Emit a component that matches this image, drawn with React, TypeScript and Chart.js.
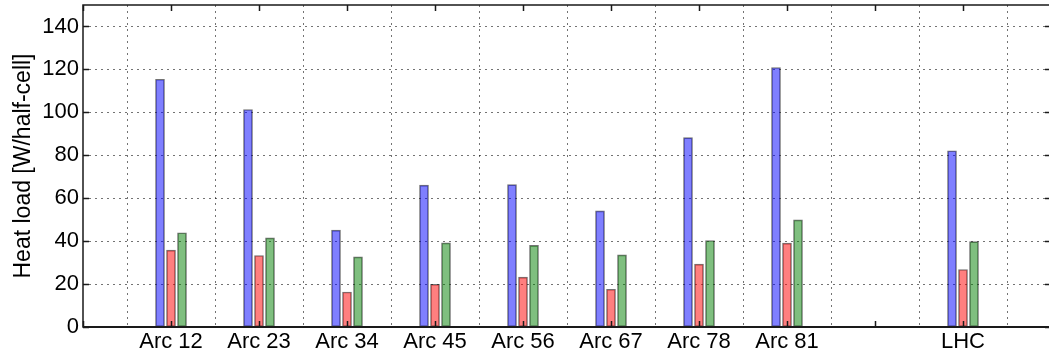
import React, { useEffect, useRef } from "react";
import { Chart, registerables } from "chart.js";

Chart.register(...registerables);

// Sector names and their positions on the x axis (gap before the LHC total)
const categories = ["Arc 12", "Arc 23", "Arc 34", "Arc 45", "Arc 56", "Arc 67", "Arc 78", "Arc 81", "LHC"];
const positions = [0, 1, 2, 3, 4, 5, 6, 7, 9];

// Heat load per half-cell for the three series
const blueValues = [115.4, 101.3, 45.1, 66.1, 66.3, 54.1, 88.2, 120.9, 82.1];
const redValues = [35.8, 33.3, 16.3, 19.9, 23.2, 17.6, 29.3, 39.1, 26.8];
const greenValues = [43.9, 41.5, 32.7, 39.2, 38.0, 33.6, 40.3, 49.9, 39.8];

const yTickValues = [0, 20, 40, 60, 80, 100, 120, 140];
const xTickValues = [-1, 0, 1, 2, 3, 4, 5, 6, 7, 8, 9, 10];
const seriesOffsets = [-0.125, 0, 0.125];
const yMax = 150;
const xMin = -1;
const xMax = 10;

const FONT = "'Liberation Sans', Arial, Helvetica, sans-serif";
const GRID_COLOR = "rgba(0,0,0,0.55)";
const GRID_DASH = [2, 4];

// Draws the axes box and short inward-pointing tick marks on all four sides
const framePlugin = {
  id: "frameAndInnerTicks",
  afterDraw(chart: any) {
    const { ctx, chartArea } = chart;
    const { left, right, top, bottom } = chartArea;
    const xs = chart.scales.x;
    const ys = chart.scales.y;
    const len = 6;
    ctx.save();
    ctx.strokeStyle = "#1a1a1a";
    ctx.lineWidth = 1.5;
    ctx.beginPath();
    for (const t of ys.ticks) {
      const y = Math.round(ys.getPixelForValue(t.value)) + 0.5;
      ctx.moveTo(left, y);
      ctx.lineTo(left + len, y);
      ctx.moveTo(right - len, y);
      ctx.lineTo(right, y);
    }
    for (const t of xs.ticks) {
      const x = Math.round(xs.getPixelForValue(t.value)) + 0.5;
      ctx.moveTo(x, bottom);
      ctx.lineTo(x, bottom - len);
      ctx.moveTo(x, top);
      ctx.lineTo(x, top + len);
    }
    ctx.stroke();
    ctx.lineWidth = 1.5;
    ctx.strokeRect(left, top, right - left, bottom - top);
    ctx.beginPath();
    ctx.lineWidth = 2;
    ctx.moveTo(left, bottom);
    ctx.lineTo(right, bottom);
    ctx.stroke();
    ctx.restore();
  },
};

function makeSeries(label: string, values: number[], offset: number, fill: string) {
  return {
    label,
    data: values.map((v, i) => ({ x: positions[i] + offset, y: v })),
    backgroundColor: fill,
    borderColor: "rgba(0,0,0,0.55)",
    borderWidth: 1,
    borderSkipped: false,
    grouped: false,
    barThickness: 9,
    maxBarThickness: 9,
  };
}

export default function App() {
  const canvasRef = useRef<HTMLCanvasElement | null>(null);

  useEffect(() => {
    const canvas = canvasRef.current;
    if (!canvas) return;
    const chart = new Chart(canvas, {
      type: "bar",
      data: {
        datasets: [
          makeSeries("Series 1", blueValues, seriesOffsets[0], "rgba(0,0,255,0.5)"),
          makeSeries("Series 2", redValues, seriesOffsets[1], "rgba(255,0,0,0.5)"),
          makeSeries("Series 3", greenValues, seriesOffsets[2], "rgba(0,128,0,0.5)"),
        ] as any,
      },
      options: {
        animation: false,
        responsive: false,
        maintainAspectRatio: false,
        devicePixelRatio: 1,
        layout: { padding: { top: 5, right: 9, left: 0, bottom: 0 } },
        plugins: {
          legend: { display: false },
          tooltip: { enabled: false },
        },
        scales: {
          x: {
            type: "linear",
            min: xMin,
            max: xMax,
            offset: false,
            border: { display: false, dash: GRID_DASH },
            grid: {
              color: GRID_COLOR,
              lineWidth: 1,
              drawTicks: false,
            },
            ticks: {
              autoSkip: false,
              maxRotation: 0,
              padding: 2,
              color: "#000",
              font: { family: FONT, size: 22 },
              callback: (v: any) => {
                const i = positions.indexOf(Number(v));
                return i >= 0 ? categories[i] : "";
              },
            },
            afterBuildTicks: (scale: any) => {
              scale.ticks = xTickValues.map((value) => ({ value }));
            },
            afterFit: (scale: any) => {
              scale.height = 29;
              scale.paddingLeft = 0;
              scale.paddingRight = 0;
            },
          } as any,
          y: {
            min: 0,
            max: yMax,
            border: { display: false, dash: GRID_DASH },
            grid: {
              color: GRID_COLOR,
              lineWidth: 1,
              drawTicks: false,
            },
            ticks: {
              padding: 4,
              color: "#000",
              font: { family: FONT, size: 22 },
            },
            title: {
              display: true,
              text: "Heat load [W/half-cell]",
              color: "#000",
              font: { family: FONT, size: 23 },
              padding: { top: 10, bottom: 0 },
            },
            afterBuildTicks: (scale: any) => {
              scale.ticks = yTickValues.map((value) => ({ value }));
            },
            afterFit: (scale: any) => {
              scale.width = 83;
              scale.paddingTop = 0;
              scale.paddingBottom = 0;
            },
          } as any,
        },
      },
      plugins: [framePlugin],
    });
    return () => chart.destroy();
  }, []);

  return (
    <div
      style={{
        position: "fixed",
        left: 0,
        top: 0,
        width: 1049,
        height: 356,
        overflow: "hidden",
        background: "#fff",
      }}
    >
      <canvas ref={canvasRef} width={1060} height={356} style={{ width: 1060, height: 356, display: "block" }} />
    </div>
  );
}
